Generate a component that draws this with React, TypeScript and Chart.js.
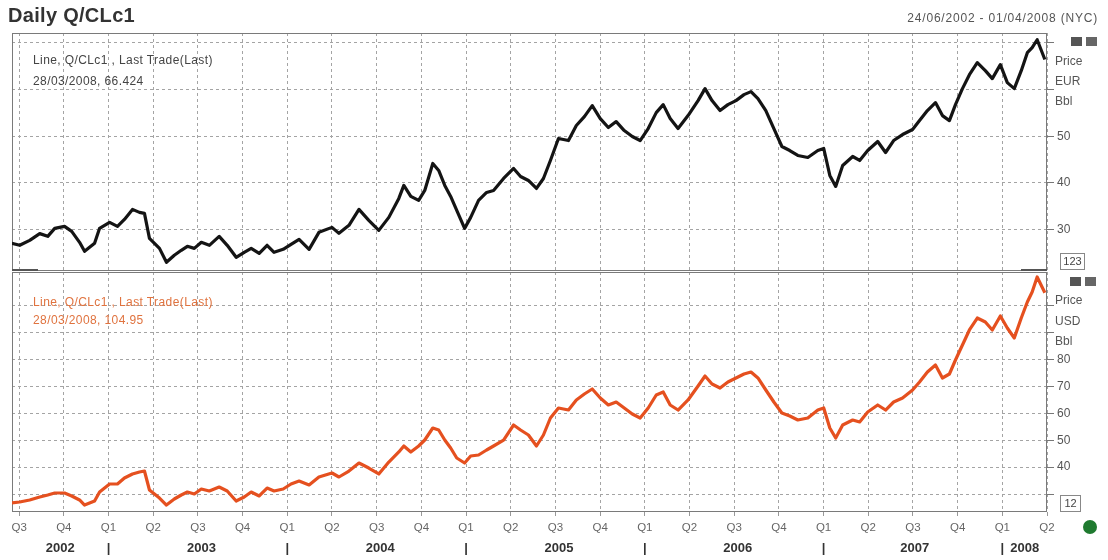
import { useEffect, useRef } from "react";
import { Chart, registerables } from "chart.js";

Chart.register(...registerables);

const FONT = '"Liberation Sans", Arial, sans-serif';

// Decimal-year dates of the sampled points (24/06/2002 .. 28/03/2008)
const dates = [
  2002.459, 2002.503, 2002.559, 2002.615, 2002.66, 2002.699, 2002.754, 2002.794, 2002.838, 2002.866,
  2002.922, 2002.95, 2003.006, 2003.05, 2003.089, 2003.134, 2003.173, 2003.201, 2003.229, 2003.257,
  2003.285, 2003.324, 2003.368, 2003.407, 2003.441, 2003.48, 2003.519, 2003.564, 2003.619, 2003.664,
  2003.714, 2003.759, 2003.798, 2003.843, 2003.887, 2003.926, 2003.977, 2004.021, 2004.066, 2004.122,
  2004.177, 2004.25, 2004.289, 2004.345, 2004.401, 2004.456, 2004.512, 2004.568, 2004.624, 2004.652,
  2004.691, 2004.735, 2004.769, 2004.814, 2004.847, 2004.881, 2004.914, 2004.948, 2004.992, 2005.026,
  2005.07, 2005.115, 2005.154, 2005.21, 2005.266, 2005.305, 2005.349, 2005.394, 2005.433, 2005.472,
  2005.517, 2005.573, 2005.617, 2005.662, 2005.706, 2005.751, 2005.796, 2005.84, 2005.885, 2005.93,
  2005.974, 2006.019, 2006.064, 2006.103, 2006.142, 2006.186, 2006.242, 2006.298, 2006.337, 2006.376,
  2006.421, 2006.465, 2006.51, 2006.555, 2006.594, 2006.633, 2006.677, 2006.722, 2006.767, 2006.811,
  2006.856, 2006.912, 2006.968, 2007.001, 2007.035, 2007.068, 2007.107, 2007.163, 2007.202, 2007.247,
  2007.303, 2007.347, 2007.392, 2007.442, 2007.498, 2007.537, 2007.581, 2007.626, 2007.665, 2007.704,
  2007.738, 2007.777, 2007.816, 2007.86, 2007.905, 2007.944, 2007.989, 2008.028, 2008.067, 2008.106,
  2008.14, 2008.167, 2008.195, 2008.238,
];

// Q/CLc1 last trade, EUR per barrel
const eurPrice = [
  27.07, 26.65, 27.71, 29.15, 28.57, 30.28, 30.71, 29.64, 27.29, 25.36,
  27.07, 30.28, 31.56, 30.71, 32.2, 34.34, 33.7, 33.48, 28.14, 27.07,
  26.0, 23.01, 24.51, 25.58, 26.43, 26.0, 27.29, 26.65, 28.57, 26.65,
  24.08, 25.15, 26.0, 24.94, 26.65, 25.15, 25.79, 26.86, 27.93, 25.79,
  29.42, 30.49, 29.21, 30.92, 34.34, 31.99, 29.85, 32.63, 36.69, 39.47,
  37.12, 36.26, 38.4, 44.17, 42.68, 39.47, 37.12, 34.12, 30.28, 32.63,
  36.26, 37.97, 38.4, 40.96, 43.1, 41.39, 40.53, 38.82, 40.96, 44.81,
  49.51, 49.08, 52.29, 54.21, 56.56, 53.78, 51.86, 53.14, 51.21, 49.94,
  49.08, 51.64, 55.06, 56.77, 53.78, 51.64, 54.42, 57.63, 60.19, 57.63,
  55.49, 56.77, 57.63, 58.91, 59.55, 58.06, 55.49, 51.64, 47.8, 46.94,
  45.88, 45.45, 46.94, 47.37, 41.6, 39.25, 43.74, 45.66, 44.81, 46.94,
  48.87, 46.52, 49.08, 50.36, 51.43, 53.35, 55.49, 57.2, 54.42, 53.35,
  56.77, 60.19, 63.18, 65.75, 64.04, 62.33, 65.32, 61.47, 60.19, 64.04,
  67.88, 68.95, 70.66, 66.424,
];

// Q/CLc1 last trade, USD per barrel
const usdPrice = [
  26.65, 27.02, 27.77, 28.88, 29.63, 30.37, 30.37, 29.26, 27.77, 25.9,
  27.39, 30.74, 33.72, 33.72, 35.96, 37.45, 38.19, 38.56, 31.49, 30.0,
  28.51, 25.9, 28.14, 29.63, 30.74, 30.0, 31.86, 31.12, 32.61, 31.12,
  27.39, 28.88, 30.74, 29.26, 32.23, 31.12, 31.86, 33.72, 34.84, 33.35,
  36.33, 37.82, 36.33, 38.56, 41.54, 39.68, 37.45, 41.91, 45.64, 47.87,
  45.64, 47.87, 50.1, 54.57, 53.83, 50.1, 47.13, 43.4, 41.54, 44.15,
  44.52, 46.38, 47.87, 50.1, 55.69, 53.83, 51.97, 47.87, 51.97, 58.3,
  62.02, 61.27, 65.0, 67.23, 69.09, 65.74, 63.14, 64.25, 62.02, 59.78,
  58.3, 62.02, 66.86, 67.97, 63.14, 61.27, 65.0, 70.21, 73.93, 70.95,
  69.46, 71.7, 73.19, 74.68, 75.42, 73.19, 68.72, 64.25, 60.16, 59.04,
  57.55, 58.3, 61.27, 62.02, 54.57, 50.85, 55.69, 57.55, 56.81, 60.53,
  63.14, 61.27, 64.25, 65.74, 68.72, 71.7, 75.42, 78.03, 73.19, 74.68,
  79.89, 85.47, 91.06, 95.52, 94.04, 91.06, 96.27, 91.8, 88.08, 95.52,
  101.48, 105.2, 110.79, 104.95,
];

const quarterTicks = [
  2002.5, 2002.75, 2003.0, 2003.25, 2003.5, 2003.75, 2004.0, 2004.25, 2004.5, 2004.75,
  2005.0, 2005.25, 2005.5, 2005.75, 2006.0, 2006.25, 2006.5, 2006.75, 2007.0, 2007.25,
  2007.5, 2007.75, 2008.0, 2008.25,
];
const quarterLabels = [
  "Q3", "Q4", "Q1", "Q2", "Q3", "Q4", "Q1", "Q2", "Q3", "Q4",
  "Q1", "Q2", "Q3", "Q4", "Q1", "Q2", "Q3", "Q4", "Q1", "Q2",
  "Q3", "Q4", "Q1", "Q2",
];
const yearTicks = [2002.73, 2003.0, 2003.52, 2004.0, 2004.52, 2005.0, 2005.52, 2006.0, 2006.52, 2007.0, 2007.51, 2008.0, 2008.125];
const yearLabels = ["2002", "|", "2003", "|", "2004", "|", "2005", "|", "2006", "|", "2007", "|", "2008"];

const eurTicks = [30, 40, 50, 60, 70];
const eurTickLabels = ["30", "40", "50", "", ""];
const usdTicks = [30, 40, 50, 60, 70, 80, 90, 100];
const usdTickLabels = ["", "40", "50", "60", "70", "80", "", ""];

const X_MIN = 2002.46;
const X_MAX = 2008.25;

const framePlugin = {
  id: "frame",
  beforeDatasetsDraw(chart: any) {
    const { ctx, chartArea: a } = chart;
    ctx.save();
    ctx.strokeStyle = "#7a7a7a";
    ctx.lineWidth = 1;
    ctx.strokeRect(a.left + 0.5, a.top + 0.5, a.width - 1, a.height - 1);
    ctx.restore();
  },
};

function quarterAxis(showLabels: boolean) {
  return {
    type: "linear",
    position: "bottom",
    weight: 0,
    min: X_MIN,
    max: X_MAX,
    afterBuildTicks: (s: any) => {
      s.ticks = quarterTicks.map((v) => ({ value: v }));
    },
    afterFit: (s: any) => {
      s.height = showLabels ? 25 : 0;
    },
    grid: {
      color: "#a4a4a4",
      lineWidth: 1,
      drawTicks: showLabels,
      tickLength: 4,
      tickColor: "#999",
    },
    border: { display: false, dash: [3, 3] },
    ticks: {
      display: showLabels,
      autoSkip: false,
      maxRotation: 0,
      padding: 5,
      color: "#666",
      font: { family: FONT, size: 11.5 },
      callback: (_v: any, i: number) => quarterLabels[i],
    },
  };
}

function priceAxis(min: number, max: number, ticks: number[], labels: string[]) {
  return {
    type: "linear",
    position: "right",
    min,
    max,
    afterBuildTicks: (s: any) => {
      s.ticks = ticks.map((v) => ({ value: v }));
    },
    afterFit: (s: any) => {
      s.width = 61;
    },
    grid: {
      color: "#a4a4a4",
      lineWidth: 1,
      drawTicks: true,
      tickLength: 7,
      tickColor: "#777",
    },
    border: { display: false, dash: [3, 3] },
    ticks: {
      autoSkip: false,
      padding: 3,
      color: "#555",
      font: { family: FONT, size: 12 },
      callback: (_v: any, i: number) => labels[i],
    },
  };
}

function makeTop(canvas: HTMLCanvasElement) {
  return new Chart(canvas, {
    type: "line",
    data: {
      datasets: [
        {
          label: "Q/CLc1 EUR",
          data: dates.map((d, i) => ({ x: d, y: eurPrice[i] })),
          borderColor: "#141414",
          borderWidth: 3.2,
          pointRadius: 0,
          tension: 0,
          borderJoinStyle: "round",
        },
      ],
    },
    options: {
      animation: false,
      responsive: true,
      maintainAspectRatio: false,
      events: [],
      layout: { padding: { left: 12, top: 33, right: 0, bottom: 289 } },
      plugins: { legend: { display: false }, tooltip: { enabled: false } },
      scales: {
        x: quarterAxis(false),
        y: priceAxis(21.15, 72.1, eurTicks, eurTickLabels),
      },
    } as any,
    plugins: [framePlugin],
  });
}

function makeBottom(canvas: HTMLCanvasElement) {
  return new Chart(canvas, {
    type: "line",
    data: {
      datasets: [
        {
          label: "Q/CLc1 USD",
          data: dates.map((d, i) => ({ x: d, y: usdPrice[i] })),
          xAxisID: "x",
          yAxisID: "y",
          borderColor: "#e5501f",
          borderWidth: 3.2,
          pointRadius: 0,
          tension: 0,
          borderJoinStyle: "round",
        },
      ],
    },
    options: {
      animation: false,
      responsive: true,
      maintainAspectRatio: false,
      events: [],
      layout: { padding: { left: 12, top: 272, right: 0, bottom: 0 } },
      plugins: { legend: { display: false }, tooltip: { enabled: false } },
      scales: {
        x: quarterAxis(true),
        x2: {
          type: "linear",
          position: "bottom",
          weight: 1,
          min: X_MIN,
          max: X_MAX,
          afterBuildTicks: (s: any) => {
            s.ticks = yearTicks.map((v) => ({ value: v }));
          },
          afterFit: (s: any) => {
            s.height = 23;
          },
          grid: { display: false, drawTicks: false },
          border: { display: false },
          ticks: {
            autoSkip: false,
            maxRotation: 0,
            padding: 4,
            color: "#333",
            font: { family: FONT, size: 13, weight: "bold" },
            callback: (_v: any, i: number) => yearLabels[i],
          },
        },
        y: priceAxis(23.3, 112.65, usdTicks, usdTickLabels),
      },
    } as any,
    plugins: [framePlugin],
  });
}

const abs = (s: any) => ({ position: "absolute", ...s });

export default function App() {
  const topRef = useRef<HTMLCanvasElement>(null);
  const botRef = useRef<HTMLCanvasElement>(null);

  useEffect(() => {
    const top = makeTop(topRef.current!);
    const bot = makeBottom(botRef.current!);
    return () => {
      top.destroy();
      bot.destroy();
    };
  }, []);

  const small = { fontFamily: FONT, fontSize: 12, lineHeight: "14px", whiteSpace: "nowrap" };

  return (
    <div style={abs({ left: 0, top: 0, width: 1108, height: 560, background: "#fff", overflow: "hidden", fontFamily: FONT })}>
      <div style={abs({ left: 0, top: 0, width: 1108, height: 560 })}>
        <canvas ref={botRef} />
      </div>
      <div style={abs({ left: 0, top: 0, width: 1108, height: 560 })}>
        <canvas ref={topRef} />
      </div>

      <div style={abs({ left: 8, top: 5, fontSize: 20, fontWeight: "bold", lineHeight: "20px", color: "#333", letterSpacing: "0.3px" })}>Daily Q/CLc1</div>
      <div style={abs({ right: 10, top: 11, ...small, color: "#555", letterSpacing: "0.8px" })}>
        24/06/2002 - 01/04/2008 (NYC)
      </div>

      <div style={abs({ left: 33, top: 53, ...small, color: "#444", letterSpacing: "0.4px" })}>Line, Q/CLc1 , Last Trade(Last)</div>
      <div style={abs({ left: 33, top: 74, ...small, color: "#444", letterSpacing: "0.4px" })}>28/03/2008, 66.424</div>

      <div style={abs({ left: 33, top: 295, ...small, color: "#e0733f", letterSpacing: "0.4px" })}>Line, Q/CLc1 , Last Trade(Last)</div>
      <div style={abs({ left: 33, top: 313, ...small, color: "#e0733f", letterSpacing: "0.4px" })}>28/03/2008, 104.95</div>

      <div style={abs({ left: 1055, top: 54, ...small, color: "#555" })}>Price</div>
      <div style={abs({ left: 1055, top: 74, ...small, color: "#555" })}>EUR</div>
      <div style={abs({ left: 1055, top: 94, ...small, color: "#555" })}>Bbl</div>

      <div style={abs({ left: 1055, top: 293, ...small, color: "#555" })}>Price</div>
      <div style={abs({ left: 1055, top: 314, ...small, color: "#555" })}>USD</div>
      <div style={abs({ left: 1055, top: 334, ...small, color: "#555" })}>Bbl</div>

      <div style={abs({ left: 1071, top: 37, width: 11, height: 9, background: "#555" })} />
      <div style={abs({ left: 1086, top: 37, width: 11, height: 9, background: "#666" })} />
      <div style={abs({ left: 1070, top: 277, width: 11, height: 9, background: "#555" })} />
      <div style={abs({ left: 1085, top: 277, width: 11, height: 9, background: "#666" })} />

      <div style={abs({ left: 1060, top: 253, width: 23, height: 15, border: "1px solid #888", fontSize: 11, lineHeight: "15px", textAlign: "center", color: "#444" })}>123</div>
      <div style={abs({ left: 1060, top: 495, width: 19, height: 15, border: "1px solid #888", fontSize: 11, lineHeight: "15px", textAlign: "center", color: "#444" })}>12</div>

      <div style={abs({ left: 12, top: 269, width: 26, height: 2, background: "#555" })} />
      <div style={abs({ left: 1021, top: 269, width: 26, height: 2, background: "#555" })} />

      <div style={abs({ left: 1083, top: 520, width: 14, height: 14, borderRadius: "50%", background: "#1f7a2f" })} />
    </div>
  );
}
